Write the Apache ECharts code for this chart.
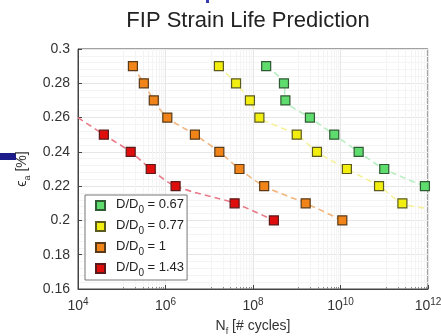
<!DOCTYPE html>
<html><head><meta charset="utf-8">
<script src="https://cdn.jsdelivr.net/npm/echarts@6/dist/echarts.min.js"></script>
<style>html,body{margin:0;padding:0;background:#fff}#c{width:441px;height:336px}</style>
</head><body><div id="c"></div>
<script>
// Strain amplitude levels [%]
const strainGreen  = [0.29, 0.28, 0.27, 0.26, 0.25, 0.24, 0.23, 0.22];
const strainYellow = [0.29, 0.28, 0.27, 0.26, 0.25, 0.24, 0.23, 0.22, 0.21];
const strainOrange = [0.29, 0.28, 0.27, 0.26, 0.25, 0.24, 0.23, 0.22, 0.21, 0.20];
const strainRed    = [0.25, 0.24, 0.23, 0.22, 0.21, 0.20];
// Predicted cycles to failure
const cyclesGreen  = [2.0e8, 5.1e8, 5.5e8, 2.0e9, 7.2e9, 2.6e10, 1.0e11, 8.5e11];
const cyclesYellow = [1.66e7, 4.1e7, 8.5e7, 1.4e8, 1.0e9, 2.9e9, 1.4e10, 7.6e10, 2.6e11];
const cyclesOrange = [1.8e5, 3.2e5, 5.4e5, 1.1e6, 4.7e6, 1.7e7, 4.9e7, 1.8e8, 1.6e9, 1.1e10];
const cyclesRed    = [3.9e4, 1.6e5, 4.6e5, 1.7e6, 3.8e7, 3.0e8];
// Fit-curve extensions beyond the data
const fitRedStart   = [1e4, 0.26];
const fitYellowEnd  = [1e12, 0.207];
const seriesNames = ['D/D0 = 0.67', 'D/D0 = 0.77', 'D/D0 = 1', 'D/D0 = 1.43'];
const xTickExps = [4, 6, 8, 10, 12];

const fills  = ['#5fdc6e', '#f2ef10', '#f08418', '#e00d0d'];
const edges  = ['#2f5a33', '#5a5a20', '#5a3a18', '#5a1a1a'];
const dashes = ['#b6eec0', '#f6f29a', '#f2b680', '#e87a88'];

const zip = (xs, ys) => xs.map((x, i) => [x, ys[i]]);
const pts = [zip(cyclesGreen, strainGreen), zip(cyclesYellow, strainYellow),
             zip(cyclesOrange, strainOrange), zip(cyclesRed, strainRed)];
const fits = [pts[0], pts[1].concat([fitYellowEnd]), pts[2], [fitRedStart].concat(pts[3])];

const series = [];
fits.forEach((d, i) => series.push({
  type: 'line', name: 'fit' + i, data: d, showSymbol: false, symbol: 'none',
  smooth: 0.3, lineStyle: {color: dashes[i], width: 1.6, type: [6, 4]}, z: 1, silent: true
}));
pts.forEach((d, i) => series.push({
  type: 'scatter', name: seriesNames[i], data: d, symbol: 'rect', symbolSize: 9,
  itemStyle: {color: fills[i], borderColor: edges[i], borderWidth: 1.2, opacity: 1}, z: 3
}));

const font = 'Liberation Sans, Arial, Helvetica, sans-serif';
const chart = echarts.init(document.getElementById('c'), null, {renderer: 'canvas'});
chart.setOption({
  animation: false,
  backgroundColor: '#fff',
  title: {text: 'FIP Strain Life Prediction', left: 243, top: 5, textAlign: 'center',
    textStyle: {fontFamily: font, fontSize: 22, fontWeight: 'normal', color: '#222'}},
  grid: {left: 78, right: 13, top: 49, bottom: 47, show: true, borderColor: '#444', borderWidth: 1,
    containLabel: false, outerBoundsMode: 'none'},
  legend: {
    data: seriesNames, orient: 'vertical', left: 85, top: 195,
    backgroundColor: '#fff', borderColor: '#777', borderWidth: 1, padding: [3, 3, 2, 10],
    itemWidth: 9, itemHeight: 9, itemGap: 4,
    formatter: n => '{n|D/D}{s|0}{n|' + n.slice(4) + '}',
    textStyle: {fontFamily: font, color: '#222', padding: [0, 0, 0, 6], rich: {
      n: {fontFamily: font, fontSize: 13, color: '#222', lineHeight: 15, verticalAlign: 'top'},
      s: {fontFamily: font, fontSize: 10, color: '#222', lineHeight: 15, verticalAlign: 'top', padding: [7,0,0,0]}
    }}
  },
  xAxis: {
    type: 'log', logBase: 10, min: 1e4, max: 1e12, interval: 2,
    name: '{n|N}{s|f}{n| [# cycles]}', nameLocation: 'middle', nameGap: 30,
    nameTextStyle: {rich: {
      n: {fontFamily: font, fontSize: 14, color: '#333', verticalAlign: 'top'},
      s: {fontFamily: font, fontSize: 9, color: '#333', verticalAlign: 'top', padding: [8,0,0,0]}
    }},
    axisLine: {show: true, lineStyle: {color: '#444'}},
    axisTick: {inside: true, length: 4, lineStyle: {color: '#444'}},
    minorTick: {show: true, splitNumber: 10, length: 2, lineStyle: {color: '#888'}},
    axisLabel: {margin: 6, formatter: v => {
        const e = Math.round(Math.log10(v));
        return xTickExps.includes(e) ? '{b|10}{s|' + e + '}' : '';
      },
      rich: {
        b: {fontFamily: font, fontSize: 14, color: '#333', lineHeight: 18, verticalAlign: 'bottom', padding: [8,0,0,0]},
        s: {fontFamily: font, fontSize: 10, color: '#333', lineHeight: 18, verticalAlign: 'top', padding: [2,0,0,0]}
      }},
    splitLine: {show: true, lineStyle: {color: '#e6e6e6', width: 1}},
    minorSplitLine: {show: true, lineStyle: {color: '#f4f4f4', width: 1}}
  },
  yAxis: {
    type: 'value', min: 0.16, max: 0.3, interval: 0.02,
    name: '{n|\u03f5}{s|a}{n| [%]}', nameLocation: 'middle', nameGap: 33, nameRotate: 90,
    nameTextStyle: {rich: {
      n: {fontFamily: font, fontSize: 14, color: '#333', verticalAlign: 'top'},
      s: {fontFamily: font, fontSize: 9, color: '#333', verticalAlign: 'top', padding: [8,0,0,0]}
    }},
    axisLine: {show: true, lineStyle: {color: '#444'}},
    axisTick: {inside: true, length: 4, lineStyle: {color: '#444'}},
    minorTick: {show: false},
    axisLabel: {margin: 8, fontFamily: font, fontSize: 14, color: '#333',
      formatter: v => String(parseFloat(v.toFixed(2)))},
    splitLine: {show: true, lineStyle: {color: '#e6e6e6', width: 1}},
    minorSplitLine: {show: true, lineStyle: {color: '#f4f4f4', width: 1}}
  },
  graphic: [
    {type: 'rect', left: 0, top: 153, shape: {width: 16, height: 7}, style: {fill: '#1c1c8a'}},
    {type: 'rect', left: 206, top: 0, shape: {width: 3, height: 3}, style: {fill: '#3a3ab0'}}
  ],
  series: series
});
</script></body></html>
